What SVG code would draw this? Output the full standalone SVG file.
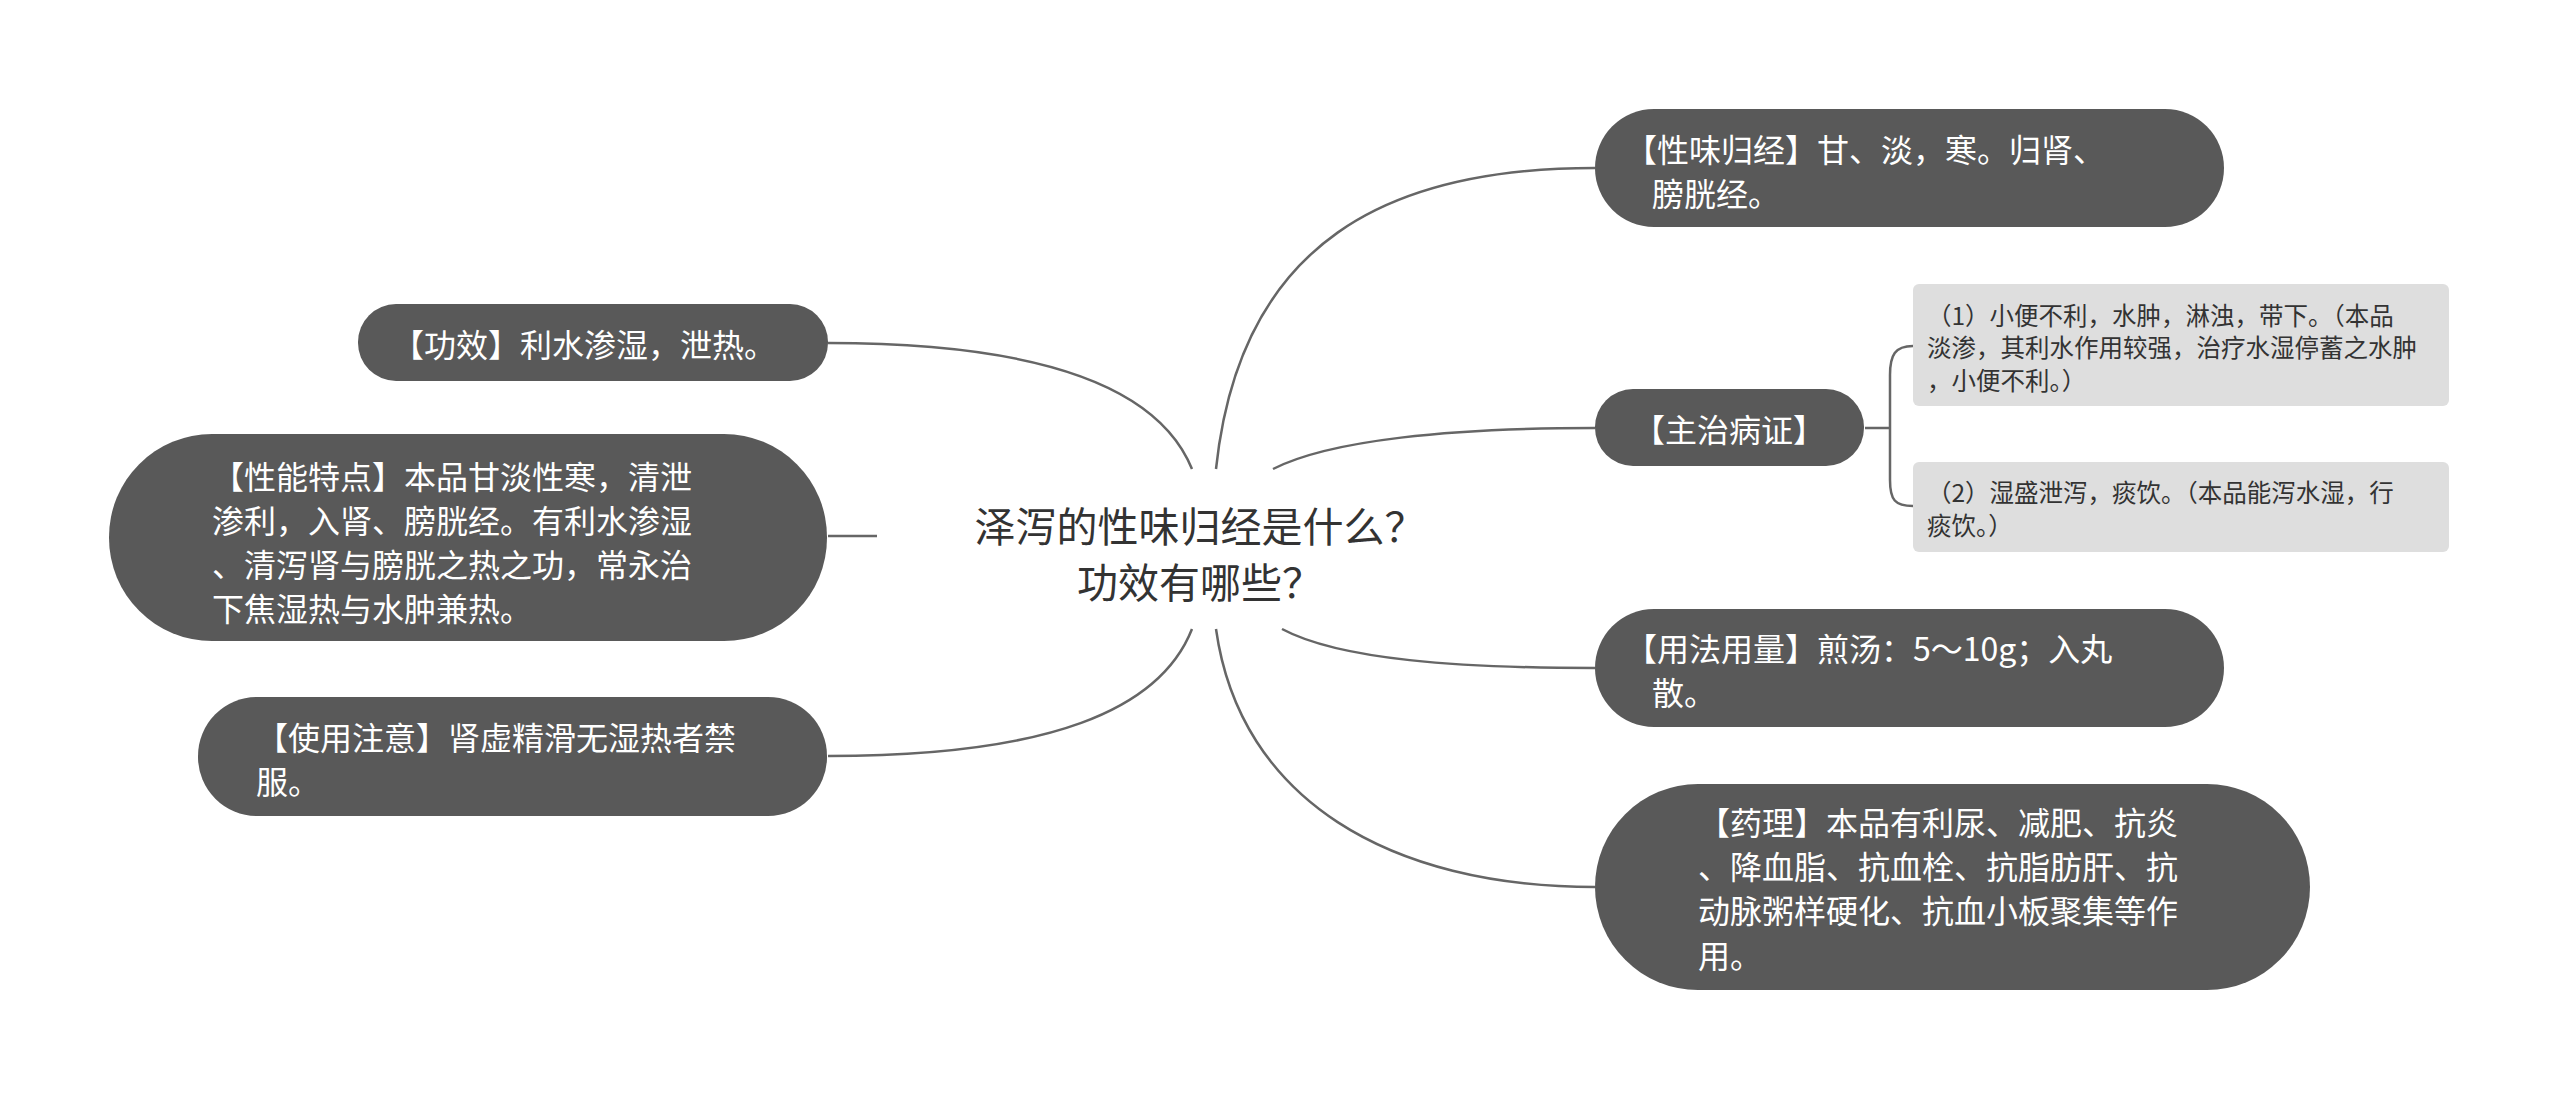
<svg xmlns="http://www.w3.org/2000/svg" width="2560" height="1101" viewBox="0 0 2560 1101">
<style>
.n{fill:#595959}
.s{fill:#dedede}
.t{font-family:"Noto Sans CJK SC","Noto Sans",sans-serif;font-size:32px;fill:#ffffff;dominant-baseline:central}
.st{font-family:"Noto Sans CJK SC","Noto Sans",sans-serif;font-size:24.5px;fill:#333333;dominant-baseline:central}
.c{font-family:"Noto Sans CJK SC","Noto Sans",sans-serif;font-size:41px;fill:#333333;dominant-baseline:central;text-anchor:middle}
.l{fill:none;stroke:#666666;stroke-width:2.5}
</style>
<rect width="2560" height="1101" fill="#ffffff"/>
<g id="connectors">
<path class="l" d="M1216,469 C1240,240 1390,168 1595,168"/>
<path class="l" d="M1273,469 C1330,440 1450,428 1595,428"/>
<path class="l" d="M1282,629 C1340,660 1460,668 1595,668"/>
<path class="l" d="M1216,629 C1240,800 1390,887 1595,887"/>
<path class="l" d="M1192,469 C1160,390 1050,343 828,343"/>
<path class="l" d="M877,536 L828,536"/>
<path class="l" d="M1192,629 C1160,710 1050,756 828,756"/>
<path class="l" d="M1865,428 L1890,428 M1913,346 C1895,346 1890,355 1890,375 L1890,480 C1890,500 1895,506 1913,506"/>
</g>
<g id="center"><text class="c" x="1200" y="524">泽泻的性味归经是什么？</text><text class="c" x="1200" y="580">功效有哪些？</text></g>
<g id="n1"><rect class="n" x="1595" y="109" width="629" height="118" rx="59"/><text class="t" x="1625" y="148">【性味归经】甘、淡，寒。归肾、</text><text class="t" x="1652" y="192">膀胱经。</text></g>
<g id="n2"><rect class="n" x="1595" y="389" width="269" height="77" rx="38"/><text class="t" x="1633" y="428">【主治病证】</text></g>
<g id="n3"><rect class="s" x="1913" y="284" width="536" height="122" rx="6"/><text class="st" x="1927" y="314">（1）小便不利，水肿，淋浊，带下。（本品</text><text class="st" x="1927" y="346">淡渗，其利水作用较强，治疗水湿停蓄之水肿</text><text class="st" x="1927" y="379">，小便不利。）</text></g>
<g id="n4"><rect class="s" x="1913" y="462" width="536" height="90" rx="6"/><text class="st" x="1927" y="491">（2）湿盛泄泻，痰饮。（本品能泻水湿，行</text><text class="st" x="1927" y="524">痰饮。）</text></g>
<g id="n5"><rect class="n" x="1595" y="609" width="629" height="118" rx="59"/><text class="t" x="1625" y="647">【用法用量】煎汤：5～10g；入丸</text><text class="t" x="1652" y="691">散。</text></g>
<g id="n6"><rect class="n" x="1595" y="784" width="715" height="206" rx="103"/><text class="t" x="1698" y="821">【药理】本品有利尿、减肥、抗炎</text><text class="t" x="1698" y="865">、降血脂、抗血栓、抗脂肪肝、抗</text><text class="t" x="1698" y="909">动脉粥样硬化、抗血小板聚集等作</text><text class="t" x="1698" y="954">用。</text></g>
<g id="n7"><rect class="n" x="358" y="304" width="470" height="77" rx="38"/><text class="t" x="392" y="343">【功效】利水渗湿，泄热。</text></g>
<g id="n8"><rect class="n" x="109" y="434" width="718" height="207" rx="103"/><text class="t" x="212" y="475">【性能特点】本品甘淡性寒，清泄</text><text class="t" x="212" y="519">渗利，入肾、膀胱经。有利水渗湿</text><text class="t" x="212" y="563">、清泻肾与膀胱之热之功，常永治</text><text class="t" x="212" y="607">下焦湿热与水肿兼热。</text></g>
<g id="n9"><rect class="n" x="198" y="697" width="629" height="119" rx="59"/><text class="t" x="256" y="736">【使用注意】肾虚精滑无湿热者禁</text><text class="t" x="256" y="780">服。</text></g>
</svg>
